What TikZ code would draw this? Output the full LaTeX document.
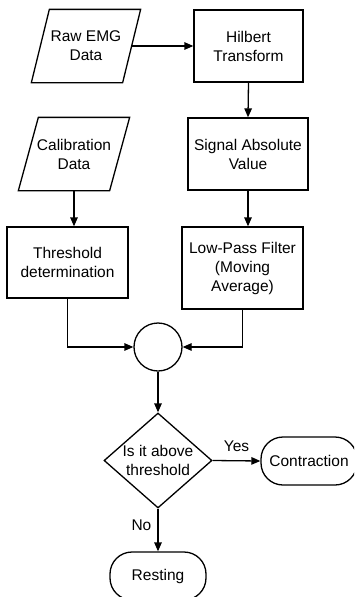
\documentclass[tikz,border=0pt]{standalone}
\usepackage{fontspec}
\setmainfont{Liberation Sans}
\usetikzlibrary{arrows.meta,shapes.geometric}
\begin{document}
\begin{tikzpicture}[x=1pt,y=-1pt,
  line width=1.3pt,
  every node/.style={font=\fontsize{15.5}{19}\selectfont, align=center, inner sep=0pt},
  procbox/.style={draw, rectangle},
  iobox/.style={rectangle, minimum width=90, minimum height=72},
  termbox/.style={draw, rectangle, rounded corners=22pt, minimum width=96, minimum height=48},
  flow/.style={-{Triangle[length=9pt,width=7.5pt]}},
  tag/.style={font=\fontsize{15.5}{19}\selectfont}]
\clip (0,0) rectangle (354,597);
\fill[white] (0,0) rectangle (354,597);

% input blocks (parallelograms)
\node[iobox] (raw) at (86,46) {Raw EMG\\Data};
\draw ([xshift=9]raw.north west) -- ([xshift=9]raw.north east)
   -- ([xshift=-9]raw.south east) -- ([xshift=-9]raw.south west) -- cycle;
\node[iobox] (cal) at (74,154) {Calibration\\Data};
\draw ([xshift=10]cal.north west) -- ([xshift=10]cal.north east)
   -- ([xshift=-10]cal.south east) -- ([xshift=-10]cal.south west) -- cycle;

% processing steps
\node[procbox, minimum width=109, minimum height=72] (hil) at (248.5,46) {Hilbert\\Transform};
\node[procbox, minimum width=120, minimum height=72] (abs) at (248,154) {Signal Absolute\\Value};
\node[procbox, minimum width=121, minimum height=71] (thr) at (67.5,262.5) {Threshold\\determination};
\node[procbox, minimum width=121, minimum height=82] (lpf) at (242.5,268) {Low-Pass Filter\\(Moving\\Average)};

% comparison junction
\node[draw, circle, minimum size=48] (cmp) at (158,347) {};

% decision
\node[draw, diamond, minimum width=108, minimum height=95] (dec) at (158,460.5) {};
\node (dectext) at (158,460) {Is it above\\threshold};

% outcomes
\node[termbox] (con) at (309,461) {Contraction};
\node[termbox] (rest) at (158,576) {Resting};

% connectors
\draw[flow] (raw.east) -- (hil.west);
\draw[flow] (hil.south) -- (abs.north);
\draw[flow] (abs.south) -- (abs.south |- lpf.north);
\draw[flow] (cal.south) -- (cal.south |- thr.north);
\draw[flow] (thr.south) |- (cmp.west);
\draw[flow] (lpf.south) |- (cmp.east);
\draw[flow] (cmp.south) -- (dec.north);
\draw[flow] (dec.east) -- node[tag, above=8pt] {Yes} (con.west);
\draw[flow] (dec.south) -- node[tag, left=6pt, pos=0.4] {No} (rest.north);
\end{tikzpicture}
\end{document}
